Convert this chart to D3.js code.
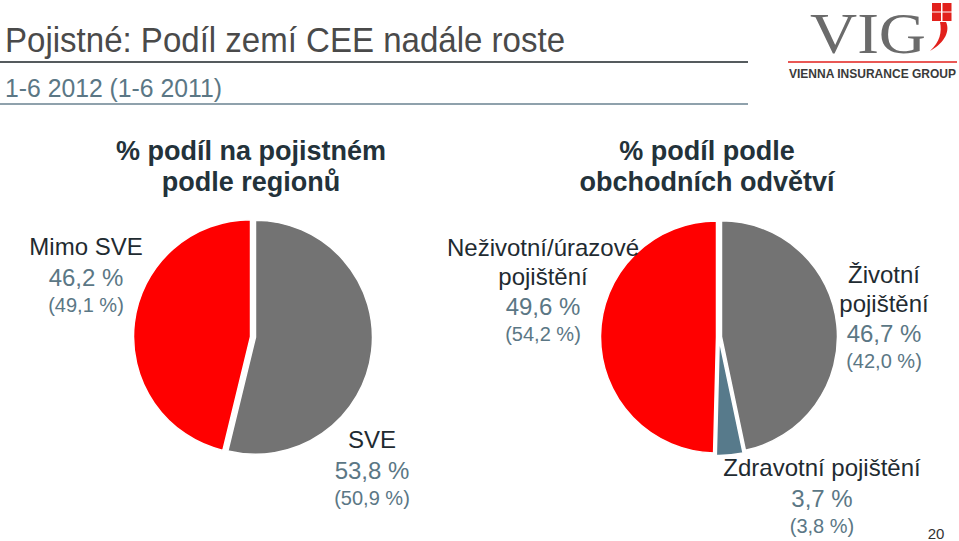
<!DOCTYPE html>
<html><head><meta charset="utf-8">
<script src="https://cdn.jsdelivr.net/npm/d3@7"></script>
<style>
html,body{margin:0;padding:0;background:#fff;}
svg{display:block;font-family:"Liberation Sans",Arial,Helvetica,sans-serif;}
</style></head>
<body>
<svg id="chart" width="959" height="541"></svg>
<script>
// ---- data ----
const pageTitle = "Pojistné: Podíl zemí CEE nadále roste";
const pageSubtitle = "1-6 2012 (1-6 2011)";
const leftTitle = ["% podíl na pojistném", "podle regionů"];
const rightTitle = ["% podíl podle", "obchodních odvětví"];

const regionNames = [["SVE"], ["Mimo SVE"]];
const regionValues = [53.8, 46.2];
const regionPrev = [50.9, 49.1];

const lineNames = [["Životní", "pojištění"], ["Zdravotní pojištění"], ["Neživotní/úrazové", "pojištění"]];
const lineValues = [46.7, 3.7, 49.6];
const linePrev = [42.0, 3.8, 54.2];

const pageNumber = "20";

// ---- styles / layout ----
const RED = "#ff0000", GREY = "#737373", BLUE = "#577a8b";
const DARK = "#1f2b31", SLATE = "#5b7785";
const svg = d3.select("#chart");
const fmt = v => d3.format(".1f")(v).replace(".", ",") + " %";

// header
svg.append("text").attr("x", 5).attr("y", 52).attr("font-size", 35).attr("fill", "#4a4a4a")
  .attr("textLength", 560).attr("lengthAdjust", "spacingAndGlyphs").text(pageTitle);
svg.append("line").attr("x1", 0).attr("x2", 748).attr("y1", 62).attr("y2", 62)
  .attr("stroke", "#555b5e").attr("stroke-width", 2.2);
svg.append("text").attr("x", 5).attr("y", 97).attr("font-size", 25).attr("fill", SLATE)
  .attr("textLength", 217).attr("lengthAdjust", "spacingAndGlyphs").text(pageSubtitle);
svg.append("line").attr("x1", 0).attr("x2", 748).attr("y1", 104).attr("y2", 104)
  .attr("stroke", "#6a8290").attr("stroke-width", 1.3);

// logo
const logo = svg.append("g");
logo.append("text").attr("transform", "translate(810,53) scale(1,1.25)")
  .attr("font-family", "'Liberation Serif','DejaVu Serif',serif")
  .attr("font-size", 45).attr("fill", "#6b6b6b").attr("textLength", 116).attr("lengthAdjust", "spacingAndGlyphs").text("VIG");
[[932, 3], [942.5, 3], [932, 12.5], [942.5, 12.5]].forEach(([x, y]) =>
  logo.append("rect").attr("x", x).attr("y", y).attr("width", 9).attr("height", 8.5).attr("fill", "#e2211c"));
logo.append("path").attr("d", "M946,22 C950,30 946,42 930,51 C940,42 942,32 940,22 Z").attr("fill", "#e2211c");
logo.append("line").attr("x1", 788).attr("x2", 957).attr("y1", 62).attr("y2", 62).attr("stroke", "#e2211c").attr("stroke-width", 1.5);
logo.append("text").attr("x", 789).attr("y", 78).attr("font-size", 12).attr("font-weight", "bold").attr("fill", "#3a3a3a")
  .attr("textLength", 167).attr("lengthAdjust", "spacingAndGlyphs").text("VIENNA INSURANCE GROUP");

// section titles
function sectionTitle(lines, cx) {
  lines.forEach((t, i) => svg.append("text").attr("x", cx).attr("y", 160 + i * 31)
    .attr("text-anchor", "middle").attr("font-size", 27).attr("font-weight", "bold").attr("fill", "#23323a").text(t));
}
sectionTitle(leftTitle, 251);
sectionTitle(rightTitle, 707);

// pies
function drawPie(values, colors, cx, cy, r) {
  const pie = d3.pie().sort(null).value(d => d).startAngle(0).endAngle(2 * Math.PI);
  const arc = d3.arc().innerRadius(0).outerRadius(r);
  const g = svg.append("g").attr("transform", `translate(${cx},${cy})`);
  g.selectAll("path").data(pie(values)).join("path")
    .attr("d", arc)
    .attr("transform", d => {
      const a = (d.startAngle + d.endAngle) / 2;
      const off = 2.5;
      return `translate(${off * Math.sin(a)},${-off * Math.cos(a)})`;
    })
    .attr("fill", (d, i) => colors[i])
    .attr("stroke", "#fff").attr("stroke-width", 1.5).attr("stroke-linejoin", "round");
}
drawPie(regionValues, [GREY, RED], 253, 337, 117);
drawPie(lineValues, [GREY, BLUE, RED], 719, 337, 116);

// labels
function label(nameLines, value, prev, cx, y0) {
  let y = y0;
  nameLines.forEach((t, i) => {
    if (i > 0) y += 28.5;
    svg.append("text").attr("x", cx).attr("y", y).attr("text-anchor", "middle")
      .attr("font-size", 24).attr("fill", DARK).text(t);
  });
  y += 30.5;
  svg.append("text").attr("x", cx).attr("y", y).attr("text-anchor", "middle")
    .attr("font-size", 24).attr("fill", SLATE).text(fmt(value));
  y += 26;
  svg.append("text").attr("x", cx).attr("y", y).attr("text-anchor", "middle")
    .attr("font-size", 20).attr("fill", SLATE).text("(" + fmt(prev) + ")");
}
const regionPos = [[372, 448], [86, 255]];
regionNames.forEach((n, i) => label(n, regionValues[i], regionPrev[i], regionPos[i][0], regionPos[i][1]));
const linePos = [[884, 283], [822, 476], [543, 256]];
lineNames.forEach((n, i) => label(n, lineValues[i], linePrev[i], linePos[i][0], linePos[i][1]));

svg.append("text").attr("x", 936).attr("y", 539).attr("text-anchor", "middle")
  .attr("font-size", 15).attr("fill", "#333").text(pageNumber);
</script>
</body></html>
